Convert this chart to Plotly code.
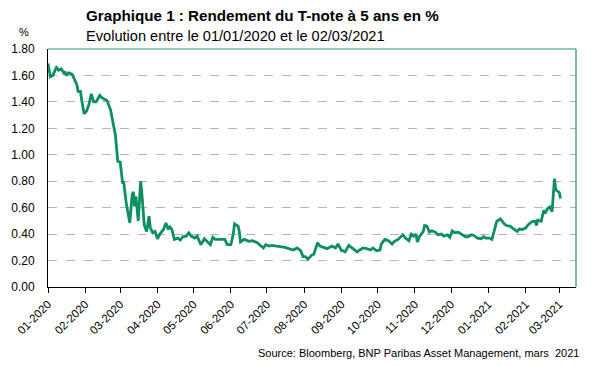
import pandas as pd
import plotly.graph_objects as go

# Days elapsed since 2020-01-01 and 5-year T-note yield (%)
day_offsets = [
    0, 2, 4, 7, 9, 11, 13, 14, 15, 17, 20, 22, 24, 25, 27, 28, 30, 32, 34, 36,
    37, 38, 40, 43, 45, 47, 49, 52, 54, 56, 58, 60, 62, 63,
    65, 68, 70, 71, 72, 73, 75, 77, 78, 80, 82, 84, 85, 87, 89, 91, 93, 96,
    98, 100, 101, 103, 105, 108, 110, 112, 115, 117, 119, 122, 124, 127, 130,
    133, 135, 137, 139, 143, 147, 149, 152, 154, 155, 158, 159, 160, 163, 167,
    170, 174, 176, 179, 181, 184, 186, 190, 194, 197, 200,
    204, 207, 210, 212, 214, 216, 219, 221, 224, 226, 229, 232, 236, 239, 241,
    244, 245, 247, 250, 252, 255, 257, 259, 262, 265, 268, 270, 273, 276,
    277, 280, 283, 286, 288, 291, 293, 295, 297, 300, 302, 304, 306, 307, 309,
    312, 313, 315, 317, 319, 322, 324, 327, 329, 332, 334, 336, 338, 341, 344,
    347, 349, 352, 354, 357, 360, 362, 364, 367, 369, 371, 373, 376, 378, 379,
    381, 384, 387, 390, 392, 394, 397, 399, 401, 403, 405, 406, 407, 410, 412,
    413, 415, 417, 419, 421, 422, 425, 426,
]
yield_pct = [
    1.69, 1.59, 1.60, 1.66, 1.64, 1.65, 1.62, 1.63, 1.60, 1.62, 1.61, 1.57, 1.53, 1.48, 1.48, 1.415, 1.31, 1.33, 1.38, 1.46,
    1.43, 1.40, 1.40, 1.45, 1.43, 1.42, 1.41, 1.34, 1.24, 1.15, 0.95, 0.945, 0.79, 0.79,
    0.635, 0.485, 0.70, 0.72, 0.61, 0.685, 0.50, 0.80, 0.71, 0.47, 0.42, 0.535, 0.45, 0.41, 0.42, 0.365, 0.40, 0.435,
    0.485, 0.435, 0.46, 0.435, 0.36, 0.37, 0.355, 0.38, 0.385, 0.41, 0.385, 0.37, 0.385, 0.32, 0.365,
    0.335, 0.32, 0.375, 0.36, 0.36, 0.36, 0.32, 0.32, 0.40, 0.477, 0.46, 0.42, 0.34, 0.36, 0.345,
    0.35, 0.335, 0.32, 0.295, 0.32, 0.31, 0.315, 0.31, 0.30, 0.30, 0.29,
    0.28, 0.295, 0.275, 0.23, 0.23, 0.21, 0.24, 0.25, 0.335, 0.31, 0.30, 0.29, 0.31, 0.295, 0.325,
    0.275, 0.275, 0.265, 0.315, 0.30, 0.28, 0.265, 0.28, 0.295, 0.29, 0.28, 0.295, 0.275, 0.28,
    0.325, 0.36, 0.35, 0.325, 0.345, 0.36, 0.375, 0.395, 0.37, 0.35, 0.40, 0.385, 0.40, 0.34, 0.385,
    0.42, 0.465, 0.46, 0.415, 0.425, 0.415, 0.395, 0.40, 0.385, 0.395, 0.375, 0.425, 0.41, 0.415, 0.40,
    0.38, 0.38, 0.395, 0.39, 0.37, 0.365, 0.38, 0.37, 0.37, 0.36, 0.435, 0.497, 0.515, 0.49, 0.48,
    0.465, 0.46, 0.44, 0.42, 0.44, 0.435, 0.445, 0.47, 0.485, 0.497, 0.497, 0.465, 0.505, 0.497, 0.58,
    0.555, 0.59, 0.605, 0.57, 0.82, 0.735, 0.715, 0.67,
]

title_text = "<b>Graphique 1 : Rendement du T-note à 5 ans en %</b>"
subtitle_text = "Evolution entre le 01/01/2020 et le 02/03/2021"
source_text = "Source: Bloomberg, BNP Paribas Asset Management, mars  2021"
y_unit = "%"

dates = pd.Timestamp("2020-01-01") + pd.to_timedelta(day_offsets, unit="D")

LINE = "#0E8F5E"
FRAME = "#2E8B7A"
FONT = "Liberation Sans, Arial, sans-serif"

# page offset (body margin) compensation
OFF = 8
W, H = 594, 366
ML, MR, MT, MB = 48 - OFF, W - (576 - OFF), 49 - OFF, H - (287.5 - OFF)

fig = go.Figure()
fig.add_trace(go.Scatter(x=dates, y=yield_pct, mode="lines",
                         line=dict(color=LINE, width=2.8), hoverinfo="skip"))

x_end = pd.Timestamp("2021-03-14 21:00")

fig.update_layout(
    width=W, height=H,
    margin=dict(l=ML, r=MR, t=MT, b=MB, autoexpand=False),
    paper_bgcolor="white", plot_bgcolor="white",
    showlegend=False,
    font=dict(family=FONT, size=12, color="black"),
    xaxis=dict(
        type="date",
        range=[pd.Timestamp("2020-01-01"), x_end],
        tick0="2020-01-01", dtick="M1", tickformat="%m-%Y",
        tickangle=-45, tickfont=dict(size=11.5),
        ticks="outside", ticklen=5, tickcolor="black", tickwidth=1,
        showline=True, linecolor="black", linewidth=1,
        showgrid=False, zeroline=False,
    ),
    yaxis=dict(
        range=[0, 1.8], dtick=0.2, tickformat=".2f",
        tickfont=dict(size=12),
        ticks="", ticklabelstandoff=10,
        showline=True, linecolor="black", linewidth=1,
        showgrid=True, gridcolor="#B4B4B4", gridwidth=1, griddash="dash",
        zeroline=False,
    ),
)

pw, ph = W - ML - MR, H - MT - MB


def add_text(text, px, py, anchor, size):
    # px, py: page pixel position (top-left origin) of the reference picture
    fx = (px - OFF - ML) / pw
    fy = (H - (py - OFF) - MB) / ph
    fig.add_annotation(text=text, x=fx, y=fy, xref="paper", yref="paper",
                       showarrow=False, xanchor=anchor, yanchor="middle",
                       font=dict(family=FONT, size=size, color="black"))


add_text(title_text, 84, 15, "left", 15.2)
add_text(subtitle_text, 84, 36, "left", 14.6)
add_text(y_unit, 24, 32, "center", 11)
add_text(source_text, 581, 354, "right", 11)

# teal frame on top and right of the plot area
fig.add_shape(type="line", xref="paper", yref="paper", x0=0, x1=1, y0=1, y1=1,
              line=dict(color=FRAME, width=1.2))
fig.add_shape(type="line", xref="paper", yref="paper", x0=1, x1=1, y0=0, y1=1,
              line=dict(color=FRAME, width=1.2))

fig.write_html("out.html")
